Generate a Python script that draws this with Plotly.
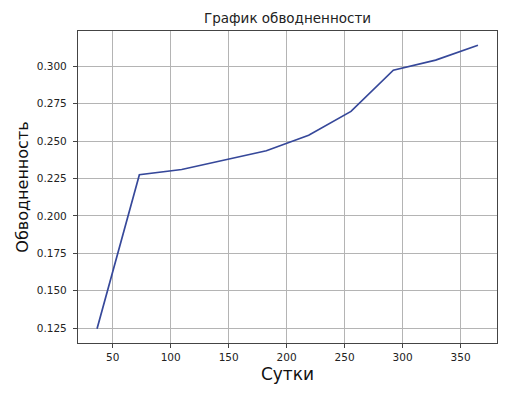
import plotly.graph_objects as go

days = [36.5, 73, 109.5, 146, 182.5, 219, 255.5, 292, 328.5, 365]
water_cut = [0.1246, 0.2275, 0.2310, 0.2370, 0.2435, 0.2538, 0.2698, 0.2973, 0.3040, 0.3140]
x_ticks = [50, 100, 150, 200, 250, 300, 350]
y_ticks = [0.125, 0.150, 0.175, 0.200, 0.225, 0.250, 0.275, 0.300]

title_text = "График обводненности"
x_title = "Сутки"
y_title = "Обводненность"

def padded(vals, frac=0.05):
    lo, hi = min(vals), max(vals)
    d = (hi - lo) * frac
    return [lo - d, hi + d]

font = "DejaVu Sans"
fig = go.Figure()
fig.add_trace(go.Scatter(x=days, y=water_cut, mode="lines",
                         line=dict(color="#36489a", width=1.7),
                         hoverinfo="skip", showlegend=False))

axis_common = dict(showgrid=True, gridcolor="#b4b4b4", gridwidth=1,
                   showline=True, linecolor="#444444", linewidth=1.2, mirror=True,
                   ticks="outside", ticklen=4, tickwidth=1, tickcolor="#444444",
                   tickfont=dict(family=font, size=10.5, color="#222222"),
                   zeroline=False)

fig.update_layout(
    width=508, height=395,
    margin=dict(l=78, r=11, t=31, b=52),
    paper_bgcolor="white", plot_bgcolor="white",
    title=dict(text=title_text, x=0.566, xanchor="center", y=0.954, yanchor="middle",
               font=dict(family=font, size=13.5, color="#222222")),
    xaxis=dict(range=padded(days), tickvals=x_ticks, ticktext=[str(v) for v in x_ticks],
               title=dict(text=x_title, font=dict(family=font, size=17, color="#111111"), standoff=6),
               **axis_common),
    yaxis=dict(range=padded(water_cut), tickvals=y_ticks, ticktext=[f"{v:.3f}" for v in y_ticks],
               ticklabelstandoff=4,
               title=dict(text=y_title, font=dict(family=font, size=16, color="#111111"), standoff=4),
               **axis_common),
)

fig.write_html("out.html")
